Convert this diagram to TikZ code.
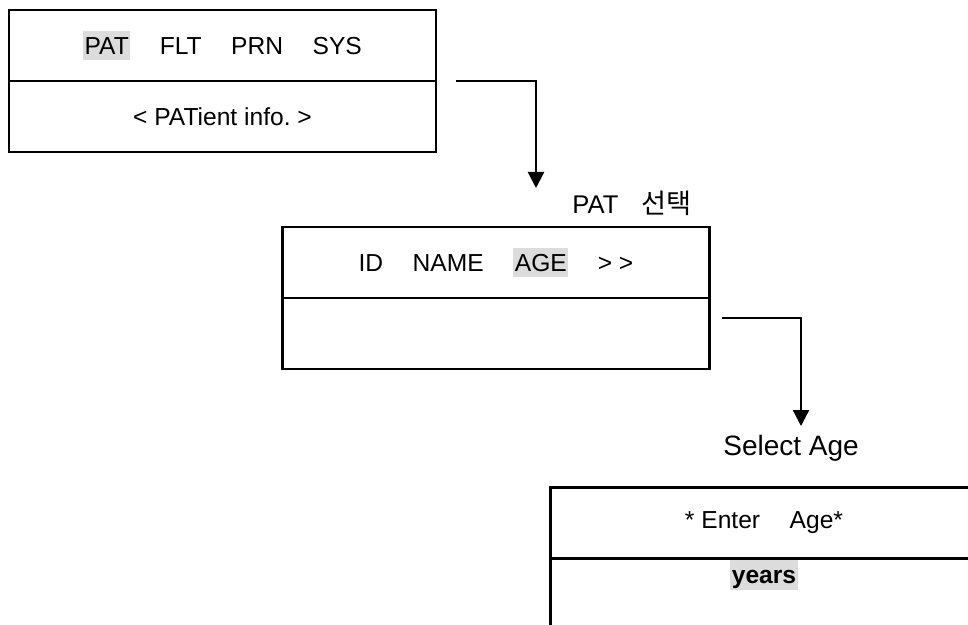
\documentclass[tikz,border=0pt]{standalone}
\usepackage{fontspec}
\setmainfont{Liberation Sans}
\newfontfamily\krfont{Noto Sans CJK KR}
\usepackage{tikz}
\usetikzlibrary{arrows.meta,positioning,calc}
\usepackage{xcolor}
\definecolor{hlgray}{HTML}{DCDCDC}
\newcommand\hlword[1]{{\setlength{\fboxsep}{0.75pt}\colorbox{hlgray}{\rule[-0.18em]{0pt}{1.06em}#1}}}
\newcommand\wgap{\hspace{1.2em}}

\begin{document}
\begin{tikzpicture}[x=0.5pt, y=-0.5pt, every node/.style={font=\fontsize{12.3}{14}\selectfont}]
\tikzset{pane/.style={draw, line width=1.15pt, minimum width=213.5pt, minimum height=35.5pt, inner sep=0pt, outer sep=0pt}}
\tikzset{flow/.style={line width=1.15pt, -{Triangle[length=8pt,width=8pt]}}}
\tikzset{caption/.style={anchor=base west, inner sep=0pt, font=\fontsize{14}{16}\selectfont}}
\useasboundingbox (0,0) rectangle (968,625);
% main menu
\node[pane] (pmenu) at (222.5,45.5) {\hlword{PAT}\wgap FLT\wgap PRN\wgap SYS};
\node[pane, below=0pt of pmenu] (pinfo) {\frenchspacing < PATient info. >};
% patient menu
\node[pane] (pfields) at (496,262.5) {ID\wgap NAME\wgap \hlword{AGE}\wgap > >};
\node[pane, below=0pt of pfields] (pblank) {};
\node[caption, font=\fontsize{12.8}{14}\selectfont] (lpat) at (572,214) {PAT\hspace{0.9em}{\krfont\fontsize{13.6}{16}\selectfont 선택}};
% age entry
\node[pane] (aenter) at (764,523) {* Enter\wgap Age*};
\node[pane, below=0pt of aenter] (ayears) {};
\node[anchor=north, inner sep=0pt, yshift=-0.6pt] (yrs) at (ayears.north) {\hlword{\bfseries years}};
\node[caption] (lsel) at (723,455) {Select Age};
\coordinate (c1) at ([xshift=10pt]pinfo.north east);
\coordinate (c1e) at (536,188);
\coordinate (c2) at ([shift={(6pt,-10pt)}]pblank.north east);
\coordinate (c2e) at (801,426);
\draw[flow] (c1) -| (c1e);
\draw[flow] (c2) -| (c2e);
\end{tikzpicture}
\end{document}
